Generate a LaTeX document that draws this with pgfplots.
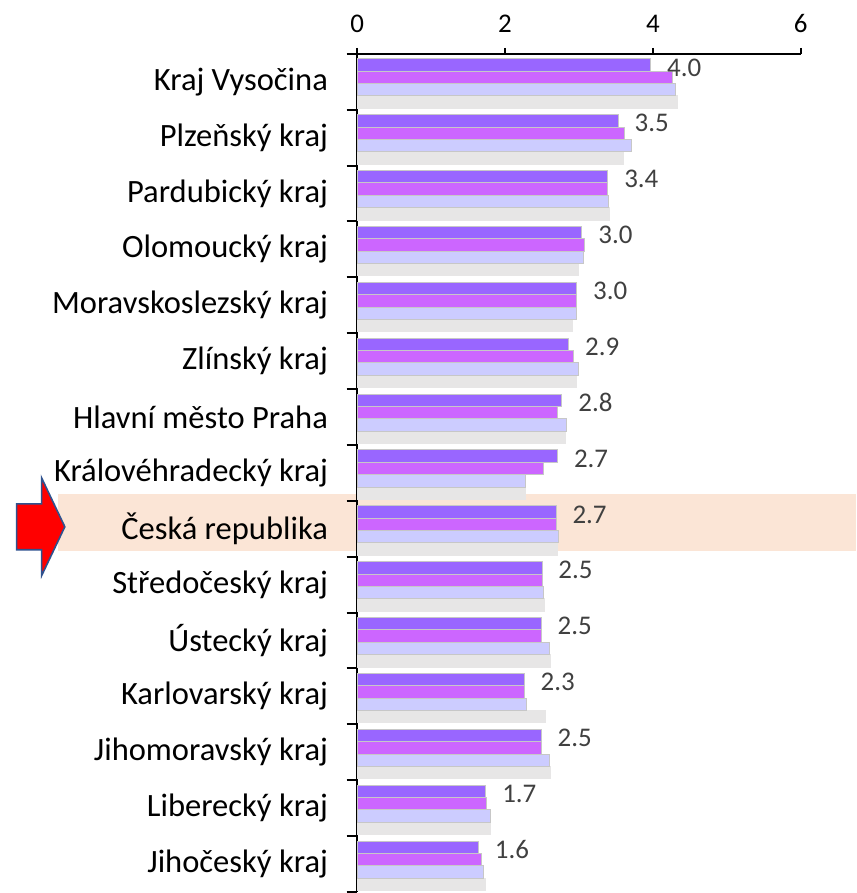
\documentclass[border=0pt]{standalone}
\usepackage{pgfplots}
\pgfplotsset{compat=1.18}
\usepackage{pgfplotstable}
\usepackage{fontspec}
\setmainfont{Carlito}

\definecolor{sA}{HTML}{9966FF}
\definecolor{sB}{HTML}{CC66FF}
\definecolor{sC}{HTML}{CCCCFF}
\definecolor{sD}{HTML}{E7E6E6}
\definecolor{band}{HTML}{FBE5D6}
\definecolor{arrowedge}{HTML}{2F528F}
\definecolor{labgray}{HTML}{404040}

% y = 14 is the top row (Kraj Vysocina)
\pgfplotstableread{
y  s1   s2   s3   s4   lab
14 3.97 4.26 4.30 4.33 4.0
13 3.53 3.62 3.71 3.60 3.5
12 3.39 3.39 3.40 3.41 3.4
11 3.04 3.08 3.06 3.00 3.0
10 2.97 2.97 2.96 2.91 3.0
9  2.86 2.93 3.00 2.96 2.9
8  2.77 2.71 2.83 2.82 2.8
7  2.71 2.52 2.28 2.28 2.7
6  2.69 2.70 2.72 2.71 2.7
5  2.50 2.51 2.52 2.53 2.5
4  2.49 2.49 2.60 2.61 2.5
3  2.26 2.26 2.29 2.55 2.3
2  2.49 2.49 2.60 2.61 2.5
1  1.74 1.75 1.80 1.80 1.7
0  1.64 1.68 1.71 1.73 1.6
}\kraje

\begin{document}
\begin{tikzpicture}
\begin{axis}[
    set layers,
    scale only axis,
    width=222.3pt, height=420pt,
    xmin=0, xmax=6, ymin=-0.5, ymax=14.5,
    axis x line=top, axis y line=left,
    axis line style={-, line width=1pt, black},
    tick style={line width=1pt, black},
    tick align=outside,
    major tick length=3pt, minor tick length=5.25pt,
    xtick={0,2,4,6},
    xticklabel style={font=\fontsize{13.5}{15}\selectfont, inner sep=0pt},
    xticklabel shift=7.5pt,
    /pgf/number format/assume math mode=true,
    ytick={0,...,14},
    major y tick style={draw=none},
    minor ytick={-0.5,0.5,...,14.5},
    yticklabels={Jihočeský kraj, Liberecký kraj, Jihomoravský kraj, Karlovarský kraj,
        Ústecký kraj, Středočeský kraj, Česká republika, Královéhradecký kraj,
        Hlavní město Praha, Zlínský kraj, Moravskoslezský kraj, Olomoucký kraj,
        Pardubický kraj, Plzeňský kraj, Kraj Vysočina},
    yticklabel style={font=\fontsize{16.3}{18}\selectfont, inner sep=0pt},
    yticklabel shift=11.5pt,
    xbar, bar width=6.2pt,
    every node near coord/.append style={anchor=west, inner sep=0pt,
        xshift=8pt, yshift=-1.2pt, text=labgray,
        font=\fontsize{13.5}{15}\selectfont},
    clip=false,
]
    \begin{pgfonlayer}{axis background}
        \fill[band] (axis cs:-4.049,5.607) rectangle (axis cs:6.748,6.625);
    \end{pgfonlayer}

    \addplot[fill=sD, draw=sD, line width=0.5pt, bar shift=-10.2pt] table[x=s4, y=y] {\kraje};
    \addplot[fill=sC, draw=black!22, line width=0.5pt, bar shift=-4.0pt] table[x=s3, y=y] {\kraje};
    \addplot[fill=sB, draw=black!22, line width=0.5pt, bar shift=2.2pt] table[x=s2, y=y] {\kraje};
    \addplot[fill=sA, draw=black!22, line width=0.5pt, bar shift=8.4pt,
        nodes near coords, point meta=explicit symbolic]
        table[x=s1, y=y, meta=lab] {\kraje};

    % red arrow pointing at the national row
    \filldraw[fill=red, draw=arrowedge, line width=0.8pt, line join=miter]
        (axis cs:-4.606,6.446) -- (axis cs:-4.268,6.446) -- (axis cs:-4.268,6.911)
        -- (axis cs:-3.954,6.036) -- (axis cs:-4.268,5.161) -- (axis cs:-4.268,5.625)
        -- (axis cs:-4.606,5.625) -- cycle;

    % picture frame
    \path (axis cs:-4.831,15.464) (axis cs:6.748,-0.5);
\end{axis}
\end{tikzpicture}
\end{document}
